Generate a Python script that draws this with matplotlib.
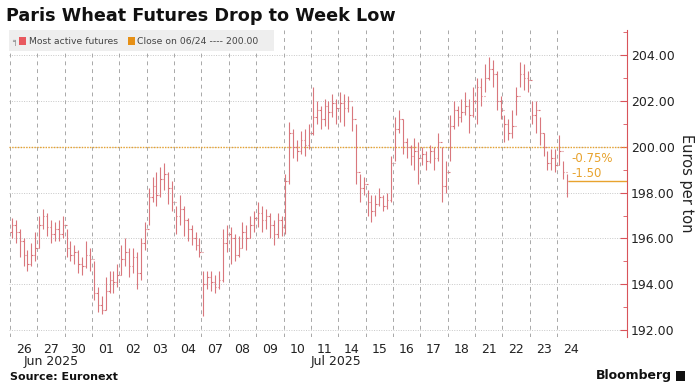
import numpy as np
import matplotlib
matplotlib.use('Agg')
import matplotlib.pyplot as plt
from matplotlib.patches import Rectangle
from matplotlib.ticker import MultipleLocator, FormatStrFormatter

# trading days shown on the x axis
day_labels = ['26', '27', '30', '01', '02', '03', '04', '07', '08', '09', '10',
              '11', '14', '15', '16', '17', '18', '21', '22', '23', '24']
bars_per_day = [7] * 20 + [3]

# intraday bars (close / high / low)
closes = [
    196.6, 196.3, 195.9, 195.3, 194.9, 195.3, 195.6,   # 26
    196.6, 197.0, 196.5, 196.2, 196.4, 196.2, 196.6,   # 27
    195.6, 195.3, 195.4, 194.9, 194.8, 195.3, 195.1,   # 30
    193.6, 193.1, 192.9, 193.7, 194.2, 194.1, 194.4,   # 01
    195.1, 195.4, 194.8, 195.2, 194.5, 195.8, 196.4,   # 02
    197.8, 198.3, 197.9, 198.6, 198.8, 198.2, 197.6,   # 03
    197.0, 197.3, 196.8, 196.4, 196.0, 195.7, 195.4,   # 04
    194.0, 194.3, 194.1, 193.9, 194.2, 195.8, 196.2,   # 07
    196.0, 195.3, 195.6, 196.3, 196.0, 196.6, 196.9,   # 08
    197.1, 196.8, 197.0, 196.6, 196.2, 196.8, 196.5,   # 09
    198.5, 200.6, 200.0, 199.8, 200.3, 200.1, 200.6,   # 10
    201.3, 201.6, 201.2, 201.8, 201.5, 201.9, 201.7,   # 11
    201.9, 201.7, 202.0, 201.2, 198.9, 198.2, 198.4,   # 14
    197.6, 197.2, 197.5, 197.8, 197.4, 197.7, 199.3,   # 15
    200.8, 201.2, 200.2, 200.0, 199.6, 199.8, 199.5,   # 16
    199.7, 199.4, 199.8, 199.5, 200.2, 198.3, 198.9,   # 17
    200.9, 201.6, 201.3, 201.5, 201.8, 201.4, 202.0,   # 18
    202.6, 202.2, 203.0, 203.4, 203.2, 202.0, 201.6,   # 21
    201.0, 200.6, 200.9, 202.2, 203.2, 203.0, 202.9,   # 22
    201.4, 201.6, 200.6, 200.0, 199.3, 199.5, 199.2,   # 23
    199.8, 198.9, 198.5,                               # 24
]
highs = [
    196.9, 196.8, 196.4, 196.0, 195.5, 195.8, 196.3,
    197.0, 197.3, 197.1, 196.8, 196.7, 196.8, 197.0,
    196.4, 195.9, 195.7, 195.5, 195.2, 195.9, 195.6,
    195.0, 193.9, 193.5, 194.3, 194.6, 194.6, 194.9,
    195.7, 196.0, 195.6, 195.6, 195.4, 196.0, 196.7,
    198.2, 198.7, 198.9, 199.1, 199.3, 198.9, 198.5,
    197.4, 197.9, 197.4, 196.9, 196.6, 196.3, 196.0,
    194.6, 194.6, 194.6, 194.4, 194.6, 196.4, 196.6,
    196.5, 196.2, 196.1, 196.7, 196.6, 197.0, 197.2,
    197.6, 197.4, 197.3, 197.1, 196.8, 197.1, 197.0,
    198.8, 201.1, 200.8, 200.3, 200.7, 200.8, 201.0,
    202.6, 202.0, 201.8, 202.1, 202.0, 202.3, 202.1,
    202.4, 202.3, 202.2, 201.8, 201.0, 198.8, 198.7,
    198.1, 197.9, 197.9, 198.2, 197.9, 198.0, 199.6,
    201.3, 201.6, 201.2, 200.4, 200.1, 200.4, 200.2,
    200.0, 199.8, 200.1, 200.0, 200.6, 200.0, 199.4,
    201.4, 202.0, 201.8, 202.1, 202.4, 202.1, 202.6,
    203.0, 203.0, 203.6, 203.9, 203.8, 203.3, 202.2,
    201.4, 201.2, 201.6, 202.6, 203.7, 203.6, 203.3,
    202.0, 202.0, 201.3, 200.6, 199.8, 199.9, 199.9,
    200.5, 199.4, 198.8,
]
lows = [
    196.0, 195.8, 195.2, 194.8, 194.6, 194.8, 195.0,
    195.6, 196.4, 196.1, 195.8, 195.9, 195.9, 196.0,
    195.2, 195.0, 194.9, 194.5, 194.4, 194.7, 194.6,
    193.3, 192.8, 192.7, 192.9, 193.6, 193.6, 193.9,
    194.4, 194.8, 194.3, 194.5, 193.8, 194.2, 195.5,
    196.6, 197.6, 197.4, 197.8, 198.1, 197.5, 197.2,
    196.2, 196.6, 196.1, 195.9, 195.7, 195.5, 195.2,
    192.6, 193.8, 193.7, 193.6, 193.8, 194.1, 195.4,
    194.9, 195.0, 195.2, 195.6, 195.5, 196.0, 196.3,
    196.5, 196.3, 196.4, 196.0, 195.7, 196.0, 196.1,
    196.2, 198.4, 199.5, 199.4, 199.7, 199.6, 199.9,
    200.5, 201.0, 200.8, 200.9, 200.8, 201.3, 201.0,
    201.1, 200.9, 201.5, 200.7, 198.4, 197.6, 197.9,
    197.0, 196.7, 197.0, 197.4, 197.2, 197.3, 197.6,
    199.4, 200.6, 199.7, 199.5, 199.2, 199.0, 198.4,
    199.2, 199.0, 199.3, 199.0, 199.4, 197.6, 198.0,
    199.4, 200.8, 200.9, 201.1, 201.4, 200.6, 201.3,
    201.0, 201.8, 202.4, 202.9, 202.6, 201.6, 201.2,
    200.2, 200.3, 200.4, 201.4, 202.6, 202.5, 202.4,
    201.0, 200.6, 200.1, 199.6, 199.0, 199.0, 198.9,
    199.2, 198.6, 197.8,
]
prev_close = 200.00
last_close = closes[-1]

BAR = '#d9777d'
ORANGE = '#e8a32e'
GREY_TXT = '#444444'

fig = plt.figure(figsize=(6.95, 3.9), dpi=100)
ax = fig.add_axes([9 / 695, 1 - 337 / 390, 618 / 695, 307 / 390])

# bar x positions: each day is one unit wide, a full session holds 7 bars
slot = 1 / 7
xs, opens = [], []
k = 0
for d, n in enumerate(bars_per_day):
    for i in range(n):
        xs.append(d + (i + 0.5) * slot)
        opens.append(closes[k - 1] if k > 0 else 196.3)
        k += 1
xs = np.array(xs)
w = 0.05
ax.vlines(xs, lows, highs, color=BAR, lw=0.8, zorder=3)
ax.hlines(opens, xs - w, xs, color=BAR, lw=0.8, zorder=3)
ax.hlines(closes, xs, xs + w, color=BAR, lw=0.8, zorder=3)

ax.set_xlim(-0.03, 22.55)
ax.set_ylim(191.7, 205.1)

# grid
for yv in range(192, 206, 2):
    ax.axhline(yv, color='#c8c8c8', lw=0.7, ls=(0, (1, 1.5)), zorder=1)
for d in range(len(day_labels)):
    ax.axvline(d, color='#a8a8a8', lw=0.7, ls=(0, (4, 4)), zorder=1)

# previous close reference and last close
ax.axhline(prev_close, color=ORANGE, lw=1.0, ls=(0, (1, 1)), zorder=2)
ax.hlines(last_close, xs[-1] + w, 22.55, color=ORANGE, lw=1.0, zorder=2)
chg = last_close - prev_close
ax.text(20.52, 199.47, f'{chg / prev_close * 100:.2f}%', color=ORANGE, fontsize=8.5,
        va='center', ha='left')
ax.text(20.52, 198.83, f'{chg:.2f}', color=ORANGE, fontsize=8.5, va='center', ha='left')

# axes styling
for s in ['top', 'left', 'bottom']:
    ax.spines[s].set_visible(False)
ax.spines['right'].set_color('#d9535a')
ax.yaxis.tick_right()
ax.yaxis.set_major_locator(MultipleLocator(2))
ax.yaxis.set_minor_locator(MultipleLocator(1))
ax.yaxis.set_major_formatter(FormatStrFormatter('%.2f'))
ax.tick_params(axis='y', which='both', colors='#d9535a', labelcolor='#222222',
               labelsize=9, direction='in', pad=3)
ax.tick_params(axis='y', which='major', length=5)
ax.tick_params(axis='y', which='minor', length=3)
ax.set_xticks(np.arange(len(day_labels)) + 0.5)
ax.set_xticklabels(day_labels, fontsize=9, color='#222222')
ax.tick_params(axis='x', length=0, pad=4)
ax.yaxis.set_label_position('right')
ax.set_ylabel('Euros per ton', rotation=270, fontsize=10.5, color='#222222', labelpad=14)

ax.text(1.5, -25 / 307, 'Jun 2025', transform=ax.get_xaxis_transform(), ha='center',
        va='center', fontsize=9, color='#222222')
ax.text(11.9, -25 / 307, 'Jul 2025', transform=ax.get_xaxis_transform(), ha='center',
        va='center', fontsize=9, color='#222222')

# title
fig.text(6 / 695, 1 - 16 / 390, 'Paris Wheat Futures Drop to Week Low', fontsize=12.7,
         fontweight='bold', va='center', ha='left', color='#111111')

# legend box
fig.add_artist(Rectangle((9 / 695, 1 - 51 / 390), 265 / 695, 21 / 390,
                         transform=fig.transFigure, facecolor='#eeeeee',
                         edgecolor='none', zorder=5))
ly = 1 - 41 / 390
fig.add_artist(Rectangle((19 / 695, ly - 4 / 390), 7 / 695, 8 / 390,
                         transform=fig.transFigure, facecolor='#e8595f', zorder=6))
fig.text(15 / 695, ly, '╕', fontsize=6, color='#888888', va='center', ha='center', zorder=6)
fig.text(29 / 695, ly, 'Most active futures', fontsize=6.7, color=GREY_TXT,
         va='center', ha='left', zorder=6)
fig.add_artist(Rectangle((128 / 695, ly - 4 / 390), 7 / 695, 8 / 390,
                         transform=fig.transFigure, facecolor='#e69016', zorder=6))
fig.text(137 / 695, ly, 'Close on 06/24 ---- 200.00', fontsize=6.7, color=GREY_TXT,
         va='center', ha='left', zorder=6)

# footer
fig.text(10 / 695, 1 - 377 / 390, 'Source: Euronext', fontsize=8, fontweight='bold',
         va='center', ha='left', color='#111111')
fig.text(672 / 695, 1 - 376 / 390, 'Bloomberg', fontsize=9, fontweight='bold',
         va='center', ha='right', color='#111111')
fig.add_artist(Rectangle((676 / 695, 1 - 381 / 390), 9 / 695, 10 / 390,
                         transform=fig.transFigure, facecolor='#111111', zorder=6))

fig.savefig('out.png', dpi=100)
